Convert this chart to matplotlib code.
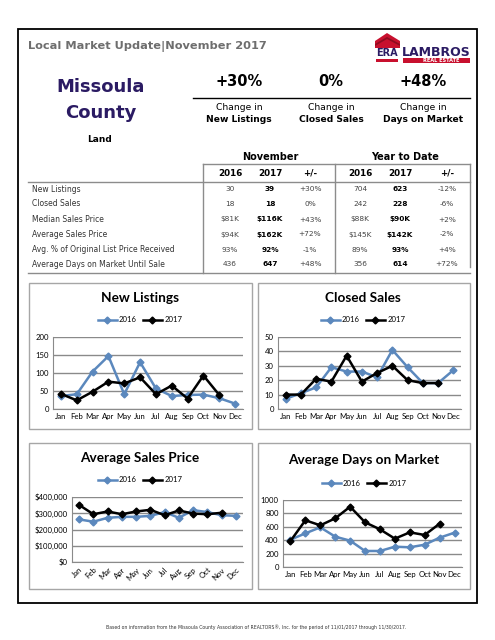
import matplotlib
matplotlib.use("Agg")
import matplotlib.pyplot as plt
from matplotlib.patches import Rectangle, Polygon
import numpy as np

W, H = 495, 640

months = ["Jan", "Feb", "Mar", "Apr", "May", "Jun", "Jul", "Aug", "Sep", "Oct", "Nov", "Dec"]

# monthly series (2017 stops at Nov)
listings_2016 = [36, 41, 104, 147, 41, 130, 57, 36, 39, 40, 30, 15]
listings_2017 = [42, 24, 48, 76, 71, 88, 41, 65, 29, 93, 39]
closed_2016 = [7, 11, 15, 29, 26, 26, 22, 41, 29, 18, 18, 27]
closed_2017 = [10, 10, 21, 19, 37, 19, 25, 30, 20, 18, 18]
price_2016 = [262000, 248000, 272000, 278000, 278000, 284000, 307000, 272000, 319000, 307000, 288000, 284000]
price_2017 = [351000, 294000, 311000, 294000, 311000, 321000, 288000, 317000, 298000, 294000, 303000]
dom_2016 = [408, 502, 592, 453, 393, 239, 239, 303, 294, 333, 438, 512]
dom_2017 = [388, 697, 622, 726, 900, 667, 562, 423, 517, 478, 647]

# summary table
row_labels = ["New Listings", "Closed Sales", "Median Sales Price", "Average Sales Price",
              "Avg. % of Original List Price Received", "Average Days on Market Until Sale"]
nov_2016 = ["30", "18", "$81K", "$94K", "93%", "436"]
nov_2017 = ["39", "18", "$116K", "$162K", "92%", "647"]
nov_chg = ["+30%", "0%", "+43%", "+72%", "-1%", "+48%"]
ytd_2016 = ["704", "242", "$88K", "$145K", "89%", "356"]
ytd_2017 = ["623", "228", "$90K", "$142K", "93%", "614"]
ytd_chg = ["-12%", "-6%", "+2%", "-2%", "+4%", "+72%"]

headline_pct = ["+30%", "0%", "+48%"]
headline_lbl = ["New Listings", "Closed Sales", "Days on Market"]

BLUE = "#5b88bd"
GRID = "#8a8a8a"
GRAYTXT = "#6e6e6e"
NAVY = "#2b1b63"
TITLEFONT = ["Lato", "DejaVu Sans"]

fig = plt.figure(figsize=(W / 100, H / 100), dpi=100)
base = fig.add_axes([0, 0, 1, 1])
base.set_xlim(0, W)
base.set_ylim(H, 0)
base.axis("off")

# outer frame
base.add_patch(Rectangle((18, 29), 459, 574, fill=False, ec="black", lw=1.3))

base.text(28, 46, "Local Market Update|November 2017", fontsize=8.2, fontweight="bold",
          color=GRAYTXT, va="center", ha="left")

# logo
base.add_patch(Polygon([(375, 41), (387, 33), (400, 41), (400, 48), (375, 48)],
                       closed=True, fc="#c8102e", ec="none"))
base.add_patch(Polygon([(375, 44), (387, 37), (400, 44), (400, 46), (387, 39), (375, 46)],
                       closed=True, fc="#8e0b20", ec="none"))
base.text(387, 53.5, "ERA", fontsize=7, fontweight="bold", color=NAVY, ha="center", va="center")
base.add_patch(Rectangle((376, 59), 22, 2.5, fc="#c8102e", ec="none"))
base.text(436, 52, "LAMBROS", fontsize=9, fontweight="bold", color=NAVY, ha="center", va="center")
base.add_patch(Rectangle((403, 58), 67, 5, fc="#c8102e", ec="none"))
base.text(441, 60.7, "REAL ESTATE", fontsize=3.6, fontweight="bold", color="white",
          ha="center", va="center")

base.text(101, 87, "Missoula", fontsize=13, fontweight="bold", color=NAVY, ha="center", va="center")
base.text(101, 113, "County", fontsize=13, fontweight="bold", color=NAVY, ha="center", va="center")
base.text(100, 139, "Land", fontsize=6.5, fontweight="bold", color="black", ha="center", va="center")

for cx, pct, lbl in zip([239, 331, 423], headline_pct, headline_lbl):
    base.text(cx, 81, pct, fontsize=10.5, fontweight="bold", ha="center", va="center")
    base.text(cx, 107, "Change in", fontsize=6.6, ha="center", va="center")
    base.text(cx, 120, lbl, fontsize=6.6, fontweight="bold", ha="center", va="center")
base.plot([193, 470], [97.5, 97.5], color="black", lw=1)

# table
tcol = "#8c8c8c"
base.text(270, 157, "November", fontsize=7, fontweight="bold", ha="center", va="center")
base.text(405, 157, "Year to Date", fontsize=7, fontweight="bold", ha="center", va="center")
base.plot([203, 470], [164, 164], color=tcol, lw=1)
base.plot([28, 470], [181.5, 181.5], color=tcol, lw=1)
base.plot([28, 470], [273, 273], color=tcol, lw=1)
base.plot([203, 203], [164, 273], color=tcol, lw=1)
base.plot([335, 335], [164, 273], color=tcol, lw=1)
base.plot([470, 470], [164, 267], color=tcol, lw=1)

col_x = [230, 270, 310, 360, 400, 447]
for x, h in zip(col_x, ["2016", "2017", "+/-", "2016", "2017", "+/-"]):
    base.text(x, 173, h, fontsize=6.3, fontweight="bold", ha="center", va="center")

row_y = [189, 203.5, 219.5, 234.5, 249.5, 264.5]
cols = [nov_2016, nov_2017, nov_chg, ytd_2016, ytd_2017, ytd_chg]
for i, (y, lbl) in enumerate(zip(row_y, row_labels)):
    base.text(32, y, lbl, fontsize=5.5, color="#333333", ha="left", va="center")
    for j, (x, col) in enumerate(zip(col_x, cols)):
        bold = j in (1, 4)
        base.text(x, y, col[i], fontsize=5.3, fontweight="bold" if bold else "normal",
                  color="black" if bold else "#444444", ha="center", va="center")

# chart panels
for (x0, y0, x1, y1) in [(29, 283, 252, 429), (258, 283, 470, 429),
                         (29, 443, 252, 589), (258, 443, 470, 589)]:
    base.add_patch(Rectangle((x0, y0), x1 - x0, y1 - y0, fill=False, ec="#a6a6a6", lw=1))


def chart(box, title, title_xy, legend_xy, s16, s17, ylim, yticks, yfmt, rot=False):
    x0, y0, x1, y1 = box
    ax = fig.add_axes([x0 / W, 1 - y1 / H, (x1 - x0) / W, (y1 - y0) / H])
    ax.patch.set_alpha(0)
    ax.plot(range(len(s16)), s16, color=BLUE, lw=1.8, marker="D", ms=3.5, label="2016")
    ax.plot(range(len(s17)), s17, color="black", lw=1.8, marker="D", ms=3.5, label="2017")
    ax.set_xlim(-0.5, 11.5)
    ax.set_ylim(*ylim)
    ax.set_yticks(yticks)
    ax.set_yticklabels([yfmt(v) for v in yticks], fontsize=5.6, family=TITLEFONT)
    ax.set_xticks(range(12))
    if rot:
        ax.set_xticklabels(months, fontsize=5.6, family=TITLEFONT, rotation=45, ha="right",
                           rotation_mode="anchor")
    else:
        ax.set_xticklabels(months, fontsize=5.6, family=TITLEFONT)
    ax.tick_params(length=0, pad=3)
    ax.yaxis.grid(True, color=GRID, lw=1)
    ax.set_axisbelow(True)
    for s in ["top", "right"]:
        ax.spines[s].set_visible(False)
    for s in ["left", "bottom"]:
        ax.spines[s].set_color(GRID)
    base.text(title_xy[0], title_xy[1], title, fontsize=9.8, fontweight="bold",
              family=TITLEFONT, ha="center", va="center")
    ax.legend(loc="center", bbox_to_anchor=(legend_xy[0] / W, 1 - legend_xy[1] / H),
              bbox_transform=fig.transFigure, ncol=2, frameon=False,
              handlelength=2.4, columnspacing=0.8, handletextpad=0.3,
              prop={"family": TITLEFONT, "size": 5.6})
    return ax


chart((53, 337, 243, 409), "New Listings", (140, 298), (140, 320),
      listings_2016, listings_2017, (0, 200), [0, 50, 100, 150, 200], lambda v: f"{v}")
chart((278, 337, 461, 409), "Closed Sales", (363, 298), (363, 320),
      closed_2016, closed_2017, (0, 50), [0, 10, 20, 30, 40, 50], lambda v: f"{v}")
chart((72, 497, 243, 562), "Average Sales Price", (140, 458), (140, 480),
      price_2016, price_2017, (0, 400000), [0, 100000, 200000, 300000, 400000],
      lambda v: f"${v:,}", rot=True)
chart((283, 500, 462, 567), "Average Days on Market", (364, 460), (364, 483),
      dom_2016, dom_2017, (0, 1000), [0, 200, 400, 600, 800, 1000], lambda v: f"{v}")

base.text(256, 627, "Based on information from the Missoula County Association of REALTORS\u00ae, Inc. "
          "for the period of 11/01/2017 through 11/30/2017.", fontsize=3.3, color="#333333",
          ha="center", va="center")

fig.savefig("out.png", dpi=100)
